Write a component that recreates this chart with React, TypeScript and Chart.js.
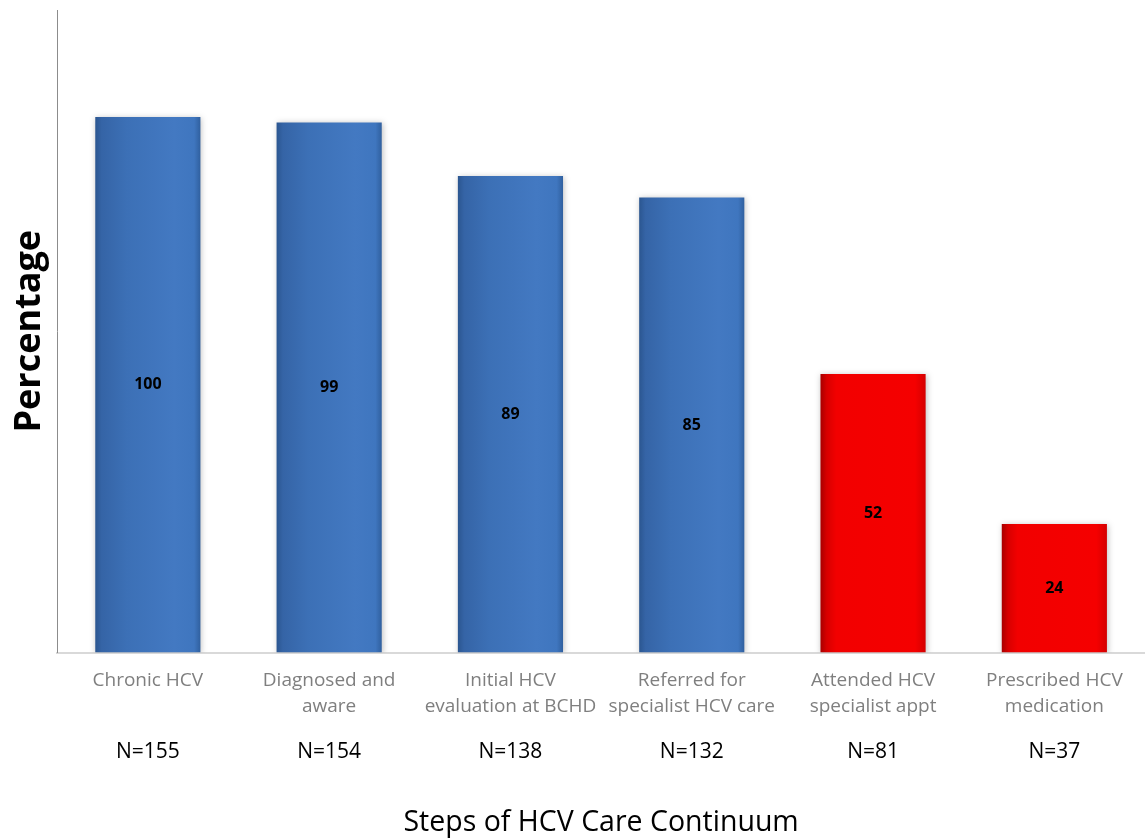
import React, { useEffect, useRef } from "react";
import { Chart, registerables } from "chart.js";

Chart.register(...registerables);

const categories: string[][] = [
  ["Chronic HCV"],
  ["Diagnosed and", "aware"],
  ["Initial HCV", "evaluation at BCHD"],
  ["Referred for", "specialist HCV care"],
  ["Attended HCV", "specialist appt"],
  ["Prescribed HCV", "medication"],
];
const nLabels: string[] = ["N=155", "N=154", "N=138", "N=132", "N=81", "N=37"];
const percentages: number[] = [100, 99, 89, 85, 52, 24];
const isRed: boolean[] = [false, false, false, false, true, true];

const FONT = "'Open Sans', 'Liberation Sans', sans-serif";

const valueLabelPlugin = {
  id: "valueLabels",
  afterDatasetsDraw(chart: any) {
    const ctx = chart.ctx;
    const meta = chart.getDatasetMeta(0);
    ctx.save();
    ctx.font = `bold 16px ${FONT}`;
    ctx.fillStyle = "#000";
    ctx.textAlign = "center";
    ctx.textBaseline = "middle";
    meta.data.forEach((bar: any, i: number) => {
      const y = (bar.y + bar.base) / 2;
      ctx.fillText(String(percentages[i]), bar.x, y);
    });
    ctx.restore();
  },
};

const shadowPlugin = {
  id: "barShadow",
  beforeDatasetsDraw(chart: any) {
    const ctx = chart.ctx;
    ctx.save();
    ctx.shadowColor = "rgba(0,0,0,0.25)";
    ctx.shadowBlur = 6;
    ctx.shadowOffsetX = 1;
    ctx.shadowOffsetY = 1;
  },
  afterDatasetsDraw(chart: any) {
    chart.ctx.restore();
  },
};

function barGradient(context: any) {
  const chart = context.chart;
  const i = context.dataIndex;
  const red = isRed[i];
  const xs = chart.scales && chart.scales.x;
  if (!xs || !chart.chartArea || i === undefined) {
    return red ? "#f00000" : "#3f74bb";
  }
  const cx = xs.getPixelForValue(i);
  const w = (xs.width / categories.length) * 0.58;
  const g = chart.ctx.createLinearGradient(cx - w / 2, 0, cx + w / 2, 0);
  if (red) {
    g.addColorStop(0, "#a80000");
    g.addColorStop(0.06, "#d80000");
    g.addColorStop(0.15, "#f20000");
    g.addColorStop(0.9, "#f50000");
    g.addColorStop(1, "#d40000");
  } else {
    g.addColorStop(0, "#2b5690");
    g.addColorStop(0.06, "#3564a6");
    g.addColorStop(0.3, "#3c70b6");
    g.addColorStop(0.75, "#4379c2");
    g.addColorStop(0.94, "#3f76bf");
    g.addColorStop(1, "#30609f");
  }
  return g;
}

export default function App() {
  const ref = useRef<HTMLCanvasElement | null>(null);

  useEffect(() => {
    document.body.style.margin = "0";
    const canvas = ref.current;
    if (!canvas) return;
    const chart = new Chart(canvas, {
      type: "bar",
      data: {
        labels: categories,
        datasets: [
          {
            data: percentages,
            backgroundColor: barGradient,
            borderWidth: 0,
            categoryPercentage: 1,
            barPercentage: 0.58,
            xAxisID: "x",
          },
        ],
      },
      options: {
        animation: false,
        responsive: false,
        maintainAspectRatio: false,
        layout: { padding: { top: 10, right: -5, bottom: 0, left: 0 } },
        plugins: {
          legend: { display: false },
          tooltip: { enabled: false },
        },
        scales: {
          x: {
            type: "category",
            position: "bottom",
            grid: { display: false, drawTicks: false },
            border: { display: true, color: "#d9d9d9", width: 2 },
            ticks: {
              color: "#7f7f7f",
              font: { family: FONT, size: 19, lineHeight: 1.37 },
              padding: 15,
              maxRotation: 0,
              minRotation: 0,
              autoSkip: false,
            },
          },
          x2: {
            type: "category",
            position: "bottom",
            labels: nLabels,
            offset: true,
            grid: { display: false, drawTicks: false },
            border: { display: false },
            ticks: {
              color: "#000",
              font: { family: FONT, size: 21 },
              padding: 5,
              maxRotation: 0,
              minRotation: 0,
              autoSkip: false,
            },
            title: {
              display: true,
              text: "Steps of HCV Care Continuum",
              color: "#000",
              font: { family: FONT, size: 28.5 },
              padding: { top: 36, bottom: 0 },
            },
          },
          y: {
            min: 0,
            max: 120,
            grid: { display: false, drawTicks: false },
            border: { display: true, color: "#8c8c8c", width: 1 },
            ticks: { display: false },
            title: {
              display: true,
              text: "Percentage",
              color: "#000",
              font: { family: FONT, size: 36, weight: "bold" },
              padding: { top: 8, bottom: 6 },
            },
          },
        },
      },
      plugins: [shadowPlugin, valueLabelPlugin],
    });
    return () => chart.destroy();
  }, []);

  return (
    <div style={{ position: "fixed", left: 0, top: 0, width: 1145, height: 840, background: "#fff" }}>
      <canvas ref={ref} width={1145} height={840} style={{ width: 1145, height: 840, display: "block" }} />
    </div>
  );
}
